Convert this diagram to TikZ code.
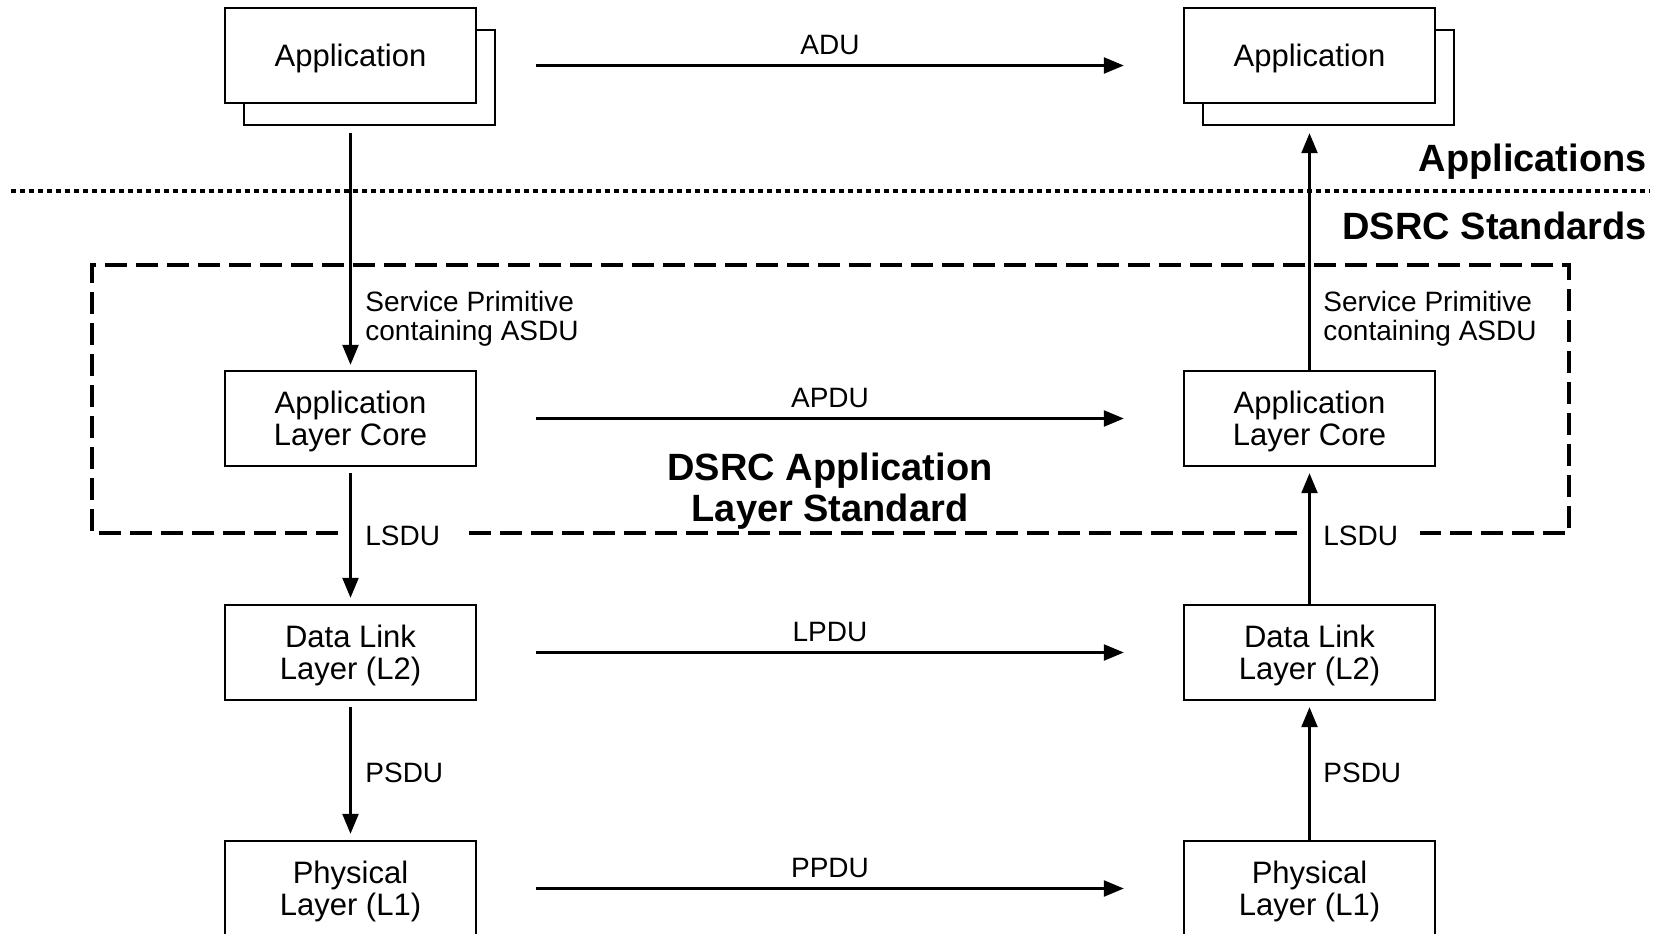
\documentclass[tikz,border=0pt]{standalone}
\usepackage{fontspec}
\setmainfont{Liberation Sans}
\usetikzlibrary{arrows.meta,calc}
\begin{document}
\begin{tikzpicture}[x=0.5pt,y=-0.5pt,
  layerbox/.style={draw, fill=white, line width=1.2pt, minimum width=125.5pt,
    minimum height=47.5pt, align=center, inner sep=0pt, text depth=0pt,
    font=\fontsize{15.5}{16}\selectfont},
  flow/.style={line width=1.2pt, -{Triangle[length=10pt,width=8pt]}},
  lbl/.style={font=\fontsize{14}{14.8}\selectfont, align=left, anchor=west,
    inner sep=0pt, text depth=0pt},
  pdu/.style={font=\fontsize{14}{14.8}\selectfont, inner sep=0pt},
  heading/.style={font=\bfseries\fontsize{19}{20.6}\selectfont, inner sep=0pt, text depth=0pt},
  dashbox/.style={line width=2pt, dash pattern=on 11pt off 4.5pt},
  sepline/.style={line width=2pt, dash pattern=on 2.5pt off 2pt}]
\useasboundingbox (0,0) rectangle (1656,933);
\clip (0,0) rectangle (1656,933);

% layer separator and headings
\draw[sepline] (11,191) -- (1650,191);
\node[heading, anchor=east] (hApps) at (1647,158) {Applications};
\node[heading, anchor=east] (hStd) at (1647,226) {DSRC Standards};

% application layer standard frame, open where the LSDU labels sit
\draw[dashbox] (338,533) -- (92,533) -- (92,265) -- (1569,265) -- (1569,533) -- (1420,533)
  (1297,533) -- (463,533);
\node[heading, align=center] (hAL) at (830,487) {DSRC Application\\Layer Standard};

% left stack
\node[layerbox] (appLback) at (369.5,77.5) {};
\node[layerbox] (appL) at (350.5,55.5) {Application};
\node[layerbox] (alcL) at (350.5,418.5) {Application\\Layer Core};
\node[layerbox] (dlL) at (350.5,652.5) {Data Link\\Layer (L2)};
\node[layerbox] (phL) at (350.5,888.5) {Physical\\Layer (L1)};

% right stack
\node[layerbox] (appRback) at (1328.5,77.5) {};
\node[layerbox] (appR) at (1309.5,55.5) {Application};
\node[layerbox] (alcR) at (1309.5,418.5) {Application\\Layer Core};
\node[layerbox] (dlR) at (1309.5,652.5) {Data Link\\Layer (L2)};
\node[layerbox] (phR) at (1309.5,888.5) {Physical\\Layer (L1)};

% peer-to-peer exchanges
\draw[flow] ([xshift=29.5pt,yshift=-5pt]appL.east) -- ([xshift=-29.5pt,yshift=-5pt]appR.west)
  node[pdu, midway, above=5pt] (adu) {ADU};
\draw[flow] ([xshift=29.5pt]alcL.east) -- ([xshift=-29.5pt]alcR.west)
  node[pdu, midway, above=5pt] (apdu) {APDU};
\draw[flow] ([xshift=29.5pt]dlL.east) -- ([xshift=-29.5pt]dlR.west)
  node[pdu, midway, above=5pt] (lpdu) {LPDU};
\draw[flow] ([xshift=29.5pt]phL.east) -- ([xshift=-29.5pt]phR.west)
  node[pdu, midway, above=5pt] (ppdu) {PPDU};

% downward path on the sending side
\draw[flow, shorten <=3.5pt, shorten >=2.5pt] (appL.south |- appLback.south) -- (alcL.north);
\draw[flow, shorten <=3pt, shorten >=3pt] (alcL.south) -- (dlL.north);
\draw[flow, shorten <=3pt, shorten >=3pt] (dlL.south) -- (phL.north);
\node[lbl] (spL) at (365,316) {Service Primitive\\containing ASDU};
\node[lbl] (lsduL) at (365,536) {LSDU};
\node[lbl] (psduL) at (365,773) {PSDU};

% upward path on the receiving side
\draw[flow, shorten >=3.5pt] (alcR.north) -- (appR.south |- appRback.south);
\draw[flow, shorten >=3pt] (dlR.north) -- (alcR.south);
\draw[flow, shorten >=3pt] (phR.north) -- (dlR.south);
\node[lbl] (spR) at (1323,316) {Service Primitive\\containing ASDU};
\node[lbl] (lsduR) at (1323,536) {LSDU};
\node[lbl] (psduR) at (1323,773) {PSDU};
\end{tikzpicture}
\end{document}
